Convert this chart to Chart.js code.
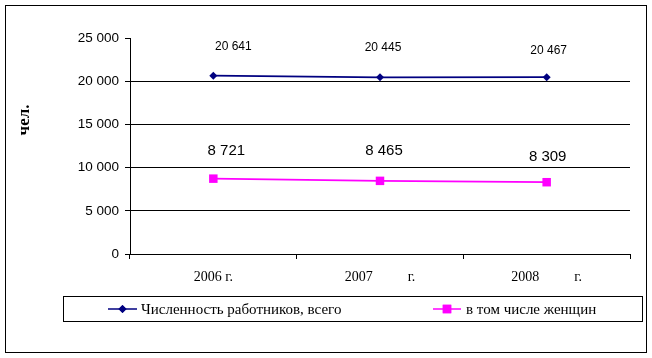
<!DOCTYPE html>
<html><head><meta charset="utf-8">
<script src="https://cdn.jsdelivr.net/npm/chart.js@4"></script>
<style>html,body{margin:0;padding:0;background:#fff}#w{width:652px;height:358px}</style>
</head><body><div id="w"><canvas id="c" width="652" height="358"></canvas></div>
<script>
const categories = ["2006 г.", "2007          г.", "2008          г."];
const totalWorkers = [20641, 20445, 20467];
const womenWorkers = [8721, 8465, 8309];
const seriesNames = ["Численность работников, всего", "в том числе женщин"];
const yTicks = [0, 5000, 10000, 15000, 20000, 25000];
const yTitle = "чел.";

const fmt = v => String(v).replace(/\B(?=(\d{3})+(?!\d))/g, ' ');

const frame = {
  id: 'frame',
  beforeDraw(chart) {
    const ctx = chart.ctx;
    ctx.save();
    ctx.fillStyle = '#fff';
    ctx.fillRect(0, 0, chart.width, chart.height);
    ctx.strokeStyle = '#000';
    ctx.lineWidth = 1;
    ctx.strokeRect(5.5, 5.5, 641, 347);
    ctx.restore();
  },
  afterDraw(chart) {
    const ctx = chart.ctx;
    ctx.save();
    ctx.translate(25, 120);
    ctx.rotate(-Math.PI / 2);
    ctx.font = 'bold 17px "Liberation Serif"';
    ctx.fillStyle = '#000';
    ctx.textAlign = 'center';
    ctx.textBaseline = 'middle';
    ctx.fillText(yTitle, 0, 0);
    ctx.restore();

    const offs = [[20, 3, 2], [13, 4, 1]];
    const dys = [[-29, -30, -26], [-28, -30, -25]];
    const fonts = ['12px "Liberation Sans"', '15px "Liberation Sans"'];
    ctx.save();
    ctx.fillStyle = '#000';
    ctx.textAlign = 'center';
    ctx.textBaseline = 'middle';
    chart.data.datasets.forEach((ds, di) => {
      const meta = chart.getDatasetMeta(di);
      ctx.font = fonts[di];
      meta.data.forEach((pt, i) => {
        ctx.fillText(fmt(ds.data[i]), pt.x + offs[di][i], pt.y + dys[di][i]);
      });
    });
    ctx.restore();

    ctx.save();
    ctx.strokeStyle = '#000';
    ctx.lineWidth = 1;
    ctx.strokeRect(63.5, 296.5, 579, 25);
    const items = [
      {x1: 108, x2: 137, tx: 141, color: '#000080', style: 'rectRot', r: 4},
      {x1: 433, x2: 461, tx: 466, color: '#FF00FF', style: 'rect', r: 6}
    ];
    const y = 309;
    ctx.font = '15px "Liberation Serif"';
    ctx.textBaseline = 'middle';
    items.forEach((it, i) => {
      ctx.strokeStyle = it.color;
      ctx.lineWidth = 1.5;
      ctx.beginPath();
      ctx.moveTo(it.x1, y); ctx.lineTo(it.x2, y); ctx.stroke();
      ctx.fillStyle = it.color;
      Chart.helpers.drawPoint(ctx, {pointStyle: it.style, radius: it.r, borderWidth: 0, rotation: 0}, (it.x1 + it.x2) / 2, y);
      ctx.fill();
      ctx.fillStyle = '#000';
      ctx.fillText(seriesNames[i], it.tx, y + 1);
    });
    ctx.restore();
  }
};

new Chart(document.getElementById('c'), {
  type: 'line',
  data: {
    labels: categories,
    datasets: [
      {label: seriesNames[0], data: totalWorkers, borderColor: '#000080', backgroundColor: '#000080',
       borderWidth: 1.8, pointStyle: 'rectRot', pointRadius: 4, pointBorderWidth: 0, tension: 0},
      {label: seriesNames[1], data: womenWorkers, borderColor: '#FF00FF', backgroundColor: '#FF00FF',
       borderWidth: 1.8, pointStyle: 'rect', pointRadius: 6, pointBorderWidth: 0, tension: 0}
    ]
  },
  options: {
    responsive: false,
    animation: false,
    events: [],
    layout: {padding: {left: 0, right: 22, top: 38, bottom: 0}},
    plugins: {legend: {display: false}, tooltip: {enabled: false}},
    scales: {
      x: {
        type: 'category',
        offset: true,
        afterFit: s => { s.height = 104; },
        grid: {offset: true, drawOnChartArea: false, drawTicks: true, tickLength: 5, color: '#000', lineWidth: 1},
        border: {display: true, color: '#000', width: 1},
        ticks: {color: '#000', font: {family: '"Liberation Serif"', size: 14}, padding: 10, maxRotation: 0, autoSkip: false}
      },
      y: {
        min: 0, max: 25000,
        afterFit: s => { s.width = 130; },
        afterBuildTicks: s => { s.ticks = yTicks.map(v => ({value: v})); },
        grid: {color: c => (c.tick && c.tick.value === 25000) ? 'rgba(0,0,0,0)' : '#000', tickColor: '#000',
               drawTicks: true, tickLength: 5, lineWidth: 1},
        border: {display: true, color: '#000', width: 1},
        ticks: {color: '#000', font: {family: '"Liberation Sans"', size: 13.5}, padding: 6, callback: v => fmt(v)}
      }
    }
  },
  plugins: [frame]
});
</script>
</body></html>
